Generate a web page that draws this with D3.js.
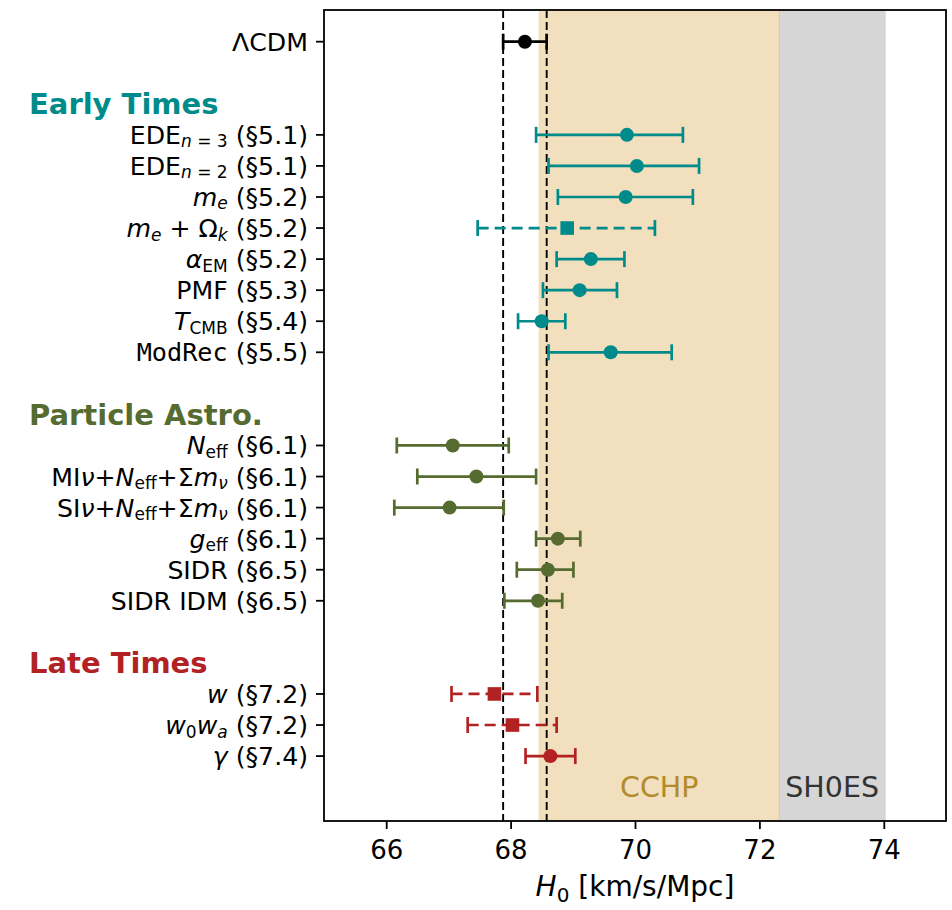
<!DOCTYPE html>
<html><head><meta charset="utf-8">
<script src="https://cdn.jsdelivr.net/npm/d3@7"></script>
<style>body{margin:0;background:#fff}svg{display:block}text{font-family:"DejaVu Sans",sans-serif}</style>
</head><body><svg id="c" width="952" height="910"></svg>
<script>
// ---- data ----
// label segments: [text, style] style: "" normal, "i" italic, "s" subscript, "si" italic subscript, "m" monospace
const labels = [
  [["ΛCDM",""]],
  [["EDE",""],["n","si"],[" = 3","s"],[" (§5.1)",""]],
  [["EDE",""],["n","si"],[" = 2","s"],[" (§5.1)",""]],
  [["m","i"],["e","si"],[" (§5.2)",""]],
  [["m","i"],["e","si"],[" + Ω",""],["k","si"],["  (§5.2)",""]],
  [["α","i"],["EM","s"],[" (§5.2)",""]],
  [["PMF (§5.3)",""]],
  [["T","i"],["CMB","s"],[" (§5.4)",""]],
  [["ModRec","m"],[" (§5.5)",""]],
  [["N","i"],["eff","s"],[" (§6.1)",""]],
  [["MI",""],["ν","i"],["+",""],["N","i"],["eff","s"],["+Σ",""],["m","i"],["ν","si"],[" (§6.1)",""]],
  [["SI",""],["ν","i"],["+",""],["N","i"],["eff","s"],["+Σ",""],["m","i"],["ν","si"],[" (§6.1)",""]],
  [["g","i"],["eff","s"],[" (§6.1)",""]],
  [["SIDR (§6.5)",""]],
  [["SIDR IDM (§6.5)",""]],
  [["w","i"],["  (§7.2)",""]],
  [["w","i"],["0","s"],["w","i"],["a","si"],[" (§7.2)",""]],
  [["γ","i"],[" (§7.4)",""]]
];
const rows    = [0, 3,4,5,6,7,8,9,10, 13,14,15,16,17,18, 21,22,23];
const centers = [68.23, 69.87,70.03,69.85,68.91,69.29,69.11,68.50,69.61, 67.07,67.45,67.02,68.76,68.60,68.44, 67.74,68.03,68.64];
const lows    = [67.88, 68.41,68.61,68.76,67.47,68.74,68.52,68.12,68.61, 66.17,66.50,66.13,68.41,68.10,67.90, 67.05,67.31,68.24];
const highs   = [68.58, 70.77,71.03,70.93,70.32,69.83,69.71,68.88,70.59, 67.97,68.41,67.89,69.12,69.01,68.83, 68.43,68.74,69.04];
const groups  = ["base","early","early","early","early","early","early","early","early","part","part","part","part","part","part","late","late","late"];
const squares = [false, false,false,false,true,false,false,false,false, false,false,false,false,false,false, true,true,false];
const headers = ["Early Times","Particle Astro.","Late Times"];
const headerRows = [2, 12, 20];
const headerGroups = ["early","part","late"];
const groupColors = {base:"#000000", early:"#008b8b", part:"#556b2f", late:"#b22222"};
const xTicks = [66, 68, 70, 72, 74];
const refLines = [67.88, 68.58];
const bands = [{name:"SH0ES", lo:72.31, hi:74.03}, {name:"CCHP", lo:68.45, hi:72.33}];

// ---- layout ----
const L = 324, R = 946, T = 10, B = 821;
const svg = d3.select("#c");
const x = d3.scaleLinear().domain([65, 75]).range([L, R]);
const y = d3.scaleLinear().domain([-1.02, 25.09]).range([T, B]);

// bands
svg.append("rect").attr("x", x(bands[0].lo)).attr("width", x(bands[0].hi)-x(bands[0].lo))
  .attr("y", T).attr("height", B-T).attr("fill", "#808080").attr("fill-opacity", 0.32);
svg.append("rect").attr("x", x(bands[1].lo)).attr("width", x(bands[1].hi)-x(bands[1].lo))
  .attr("y", T).attr("height", B-T).attr("fill", "#e3bf7b").attr("fill-opacity", 0.5);

// band labels
svg.append("text").attr("x", (x(bands[1].lo)+x(bands[1].hi))/2).attr("y", 797)
  .attr("text-anchor","middle").attr("font-size", 28.5).attr("fill", "#b38a2c").text("CCHP");
svg.append("text").attr("x", (x(bands[0].lo)+x(bands[0].hi))/2).attr("y", 797)
  .attr("text-anchor","middle").attr("font-size", 28.5).attr("fill", "#333333").text("SH0ES");

// reference dashed lines
svg.selectAll("line.ref").data(refLines).join("line").attr("class","ref")
  .attr("x1", d=>x(d)).attr("x2", d=>x(d)).attr("y1", T).attr("y2", B)
  .attr("stroke","#000").attr("stroke-width",1.9).attr("stroke-dasharray","8,4");

// error bars
const idx = d3.range(rows.length);
const g = svg.append("g");
idx.forEach(i => {
  const c = groupColors[groups[i]], yy = y(rows[i]);
  g.append("line").attr("x1", x(lows[i])).attr("x2", x(highs[i])).attr("y1", yy).attr("y2", yy)
    .attr("stroke", c).attr("stroke-width", 2.7).attr("stroke-dasharray", squares[i] ? "11,6" : null);
  [lows[i], highs[i]].forEach(v => g.append("line").attr("x1", x(v)).attr("x2", x(v))
    .attr("y1", yy-8).attr("y2", yy+8).attr("stroke", c).attr("stroke-width", 2.7));
  if (squares[i]) g.append("rect").attr("x", x(centers[i])-6.8).attr("y", yy-6.8)
      .attr("width", 13.6).attr("height", 13.6).attr("fill", c);
  else g.append("circle").attr("cx", x(centers[i])).attr("cy", yy).attr("r", 7).attr("fill", c);
});

// frame
svg.append("rect").attr("x", L).attr("y", T).attr("width", R-L).attr("height", B-T)
  .attr("fill","none").attr("stroke","#000").attr("stroke-width",1.8);

// x axis
const xa = svg.append("g").attr("transform", `translate(0,${B})`)
  .call(d3.axisBottom(x).tickValues(xTicks).tickSize(8).tickPadding(12).tickFormat(d3.format("d")));
xa.select(".domain").remove();
xa.selectAll("line").attr("stroke","#000").attr("stroke-width",1.8);
xa.selectAll("text").attr("font-size", 26).attr("font-family","DejaVu Sans").attr("fill","#000");

// y ticks
svg.selectAll("line.yt").data(rows).join("line").attr("class","yt")
  .attr("x1", L-8).attr("x2", L).attr("y1", d=>y(d)).attr("y2", d=>y(d))
  .attr("stroke","#000").attr("stroke-width",1.8);

// y labels
idx.forEach(i => {
  const t = svg.append("text").attr("x", 308).attr("y", y(rows[i]) + 9)
    .attr("text-anchor","end").attr("font-size", 25.2).attr("fill","#000");
  let sub = false;
  labels[i].forEach(([txt, st]) => {
    const ts = t.append("tspan").text(txt);
    const isSub = st === "s" || st === "si";
    if (st === "i" || st === "si") ts.attr("font-style","italic");
    if (st === "m") ts.attr("font-family","DejaVu Sans Mono");
    if (isSub) ts.attr("font-size", 17);
    if (isSub && !sub) ts.attr("dy", 3.5);
    if (!isSub && sub) ts.attr("dy", -3.5);
    sub = isSub;
  });
});

// group headers
headers.forEach((h, k) => {
  svg.append("text").attr("x", 29).attr("y", y(headerRows[k]) + 10.5)
    .attr("font-size", 29).attr("font-weight","bold").attr("fill", groupColors[headerGroups[k]]).text(h);
});

// x axis title
const xt = svg.append("text").attr("x", (L+R)/2).attr("y", 896).attr("text-anchor","middle")
  .attr("font-size", 28).attr("fill","#000");
xt.append("tspan").attr("font-style","italic").text("H");
xt.append("tspan").attr("font-size", 20).attr("dy", 6).text("0");
xt.append("tspan").attr("dy", -6).text(" [km/s/Mpc]");
</script></body></html>
